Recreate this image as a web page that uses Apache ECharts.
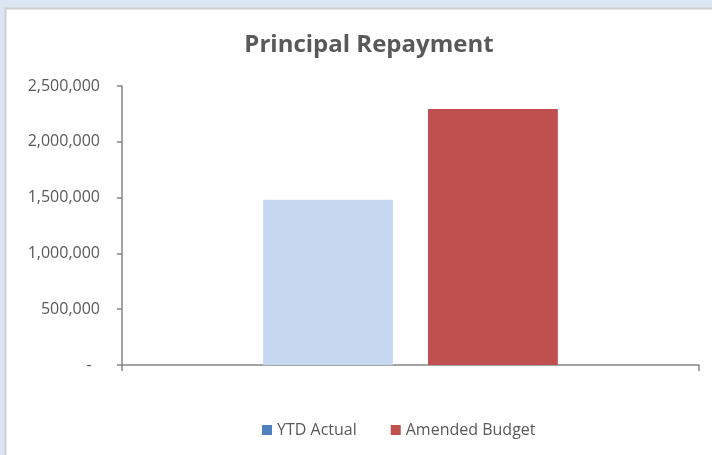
<!DOCTYPE html>
<html>
<head>
<meta charset="utf-8">
<script src="https://cdn.jsdelivr.net/npm/echarts@6/dist/echarts.min.js"></script>
<style>
  html, body { margin: 0; padding: 0; background: #dce6f2; }
  #chart { width: 712px; height: 455px; }
</style>
</head>
<body>
<div id="chart"></div>
<script>
// Chart data
const categories = ['Principal Repayment'];
const seriesNames = ['YTD Actual', 'Amended Budget'];
const ytdActual = [1480000];
const amendedBudget = [2295000];
const barColors = ['#c6d9f1', '#c0504d'];
const legendColors = ['#4f81bd', '#c0504d'];

const fontFamily = '"Open Sans", "Noto Sans", sans-serif';
const textColor = '#595959';
const axisColor = '#868686';

function formatTick(v) {
  if (v === 0) return '-  ';
  return v.toLocaleString('en-US');
}

const chart = echarts.init(document.getElementById('chart'));
chart.setOption({
  backgroundColor: 'transparent',
  animation: false,
  graphic: [{
    type: 'rect',
    z: -10,
    silent: true,
    shape: { x: 5.5, y: 8.5, width: 720, height: 460 },
    style: { fill: '#ffffff', stroke: '#cfcfcf', lineWidth: 2 }
  }],
  title: {
    text: 'Principal Repayment',
    left: 364,
    textAlign: 'center',
    top: 28,
    textStyle: { fontFamily: fontFamily, fontSize: 24, fontWeight: 'bold', color: textColor }
  },
  legend: {
    data: seriesNames.map((n, i) => ({ name: n, itemStyle: { color: legendColors[i] } })),
    bottom: 12,
    left: 257,
    icon: 'rect',
    itemWidth: 10,
    itemHeight: 10,
    itemGap: 34,
    textStyle: { fontFamily: fontFamily, fontSize: 16, color: textColor }
  },
  grid: { left: 122, right: 13, top: 86, bottom: 90, containLabel: false },
  xAxis: {
    type: 'category',
    data: categories,
    axisLine: { lineStyle: { color: axisColor, width: 1.5 } },
    axisTick: { show: true, length: 6, lineStyle: { color: axisColor, width: 1.5 } },
    axisLabel: { show: false }
  },
  yAxis: {
    type: 'value',
    min: 0,
    max: 2500000,
    interval: 500000,
    axisLine: { show: true, lineStyle: { color: axisColor, width: 1.5 } },
    axisTick: { show: true, length: 5, lineStyle: { color: axisColor, width: 1.5 } },
    splitLine: { show: false },
    axisLabel: {
      margin: 22,
      fontFamily: fontFamily,
      fontSize: 16,
      color: textColor,
      formatter: formatTick
    }
  },
  series: [
    {
      name: seriesNames[0],
      type: 'bar',
      data: ytdActual,
      barWidth: '22.5%',
      barGap: '27%',
      itemStyle: { color: barColors[0] }
    },
    {
      name: seriesNames[1],
      type: 'bar',
      data: amendedBudget,
      barWidth: '22.5%',
      barGap: '27%',
      itemStyle: { color: barColors[1] }
    }
  ]
});
</script>
</body>
</html>
